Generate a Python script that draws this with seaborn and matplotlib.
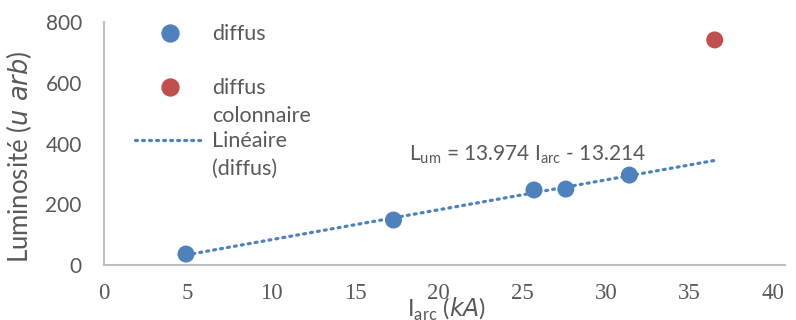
import numpy as np
import pandas as pd
import matplotlib
matplotlib.use("Agg")
import matplotlib.pyplot as plt
from matplotlib.lines import Line2D
import seaborn as sns

# Measured points
diffus_i = [4.9, 17.3, 25.7, 27.6, 31.4]
diffus_l = [36, 148, 247, 250, 296]
colonnaire_i = [36.5]
colonnaire_l = [741]
x_ticks = [0, 5, 10, 15, 20, 25, 30, 35, 40]
y_ticks = [0, 200, 400, 600, 800]
legend_labels = ["diffus", "diffus\ncolonnaire", "Linéaire\n(diffus)"]
equation = r"L$_{\mathregular{um}}$ = 13.974 I$_{\mathregular{arc}}$ - 13.214"

sns.set_theme(style="white")
plt.rcParams["font.family"] = ["Lato", "DejaVu Sans"]

blue = "#4F81BD"
red = "#C0504D"
grey = "#595959"
dotted = (0, (0.6, 1.6))

W, H = 796, 320
df = pd.DataFrame({
    "I": diffus_i + colonnaire_i,
    "L": diffus_l + colonnaire_l,
    "regime": ["diffus"] * len(diffus_i) + ["diffus colonnaire"] * len(colonnaire_i),
})

fig = plt.figure(figsize=(W / 100, H / 100), dpi=100)
ax = fig.add_axes([104 / W, 55 / H, (785 - 104) / W, (265 - 22) / H])

sns.scatterplot(data=df, x="I", y="L", hue="regime",
                palette={"diffus": blue, "diffus colonnaire": red},
                s=150, edgecolor="none", ax=ax, legend=False, zorder=3)

# Linear trend of the diffuse regime, extended to the last measurement
coef = np.polyfit(diffus_i, diffus_l, 1)
xt = np.array([min(diffus_i), max(colonnaire_i)])
ax.plot(xt, np.polyval(coef, xt), color=blue, lw=2.3,
        linestyle=dotted, dash_capstyle="round", zorder=2)

ax.set_xlim(0, 40.7)
ax.set_ylim(0, 800)
ax.set_xticks(x_ticks)
ax.set_yticks(y_ticks)
ax.set_xticklabels([str(v) for v in x_ticks], family="Liberation Serif",
                   fontsize=16.5, color=grey)
ax.set_yticklabels([str(v) for v in y_ticks], fontsize=15, color=grey)
ax.tick_params(axis="both", length=0)
ax.tick_params(axis="x", pad=13)
ax.tick_params(axis="y", pad=16)

for side in ["top", "right"]:
    ax.spines[side].set_visible(False)
for side in ["left", "bottom"]:
    ax.spines[side].set_color("#BFBFBF")
    ax.spines[side].set_linewidth(1.5)

ax.set_xlabel(r"I$_{\mathregular{arc}}$ ($\it{kA}$)", fontsize=17, color=grey)
ax.xaxis.set_label_coords((447 - 104) / 681, -(296 - 265) / 243)
ax.set_ylabel(r"Luminosité ($\it{u\ arb}$)", fontsize=18.5, color=grey)
ax.yaxis.set_label_coords(-(104 - 34) / 681, (265 - 157) / 243)

ax.text(18.2, 362, equation, fontsize=15, color=grey, va="center", ha="left")

# Legend block at the upper left
def fx(px):
    return px / W

def fy(py):
    return 1 - py / H

fig.add_artist(Line2D([fx(170)], [fy(33)], marker="o", ls="none",
                      color=blue, markersize=12.2))
fig.add_artist(Line2D([fx(170)], [fy(87)], marker="o", ls="none",
                      color=red, markersize=12.2))
fig.add_artist(Line2D([fx(135), fx(202)], [fy(140), fy(140)], color=blue,
                      lw=2.3, linestyle=dotted, dash_capstyle="round"))
for label, ytop in zip(legend_labels, [33, 87, 140]):
    fig.text(fx(212), fy(ytop) + 9 / H, label, fontsize=15.5, color=grey,
             ha="left", va="top", linespacing=1.5)

fig.savefig("out.png", dpi=100, facecolor="white")
